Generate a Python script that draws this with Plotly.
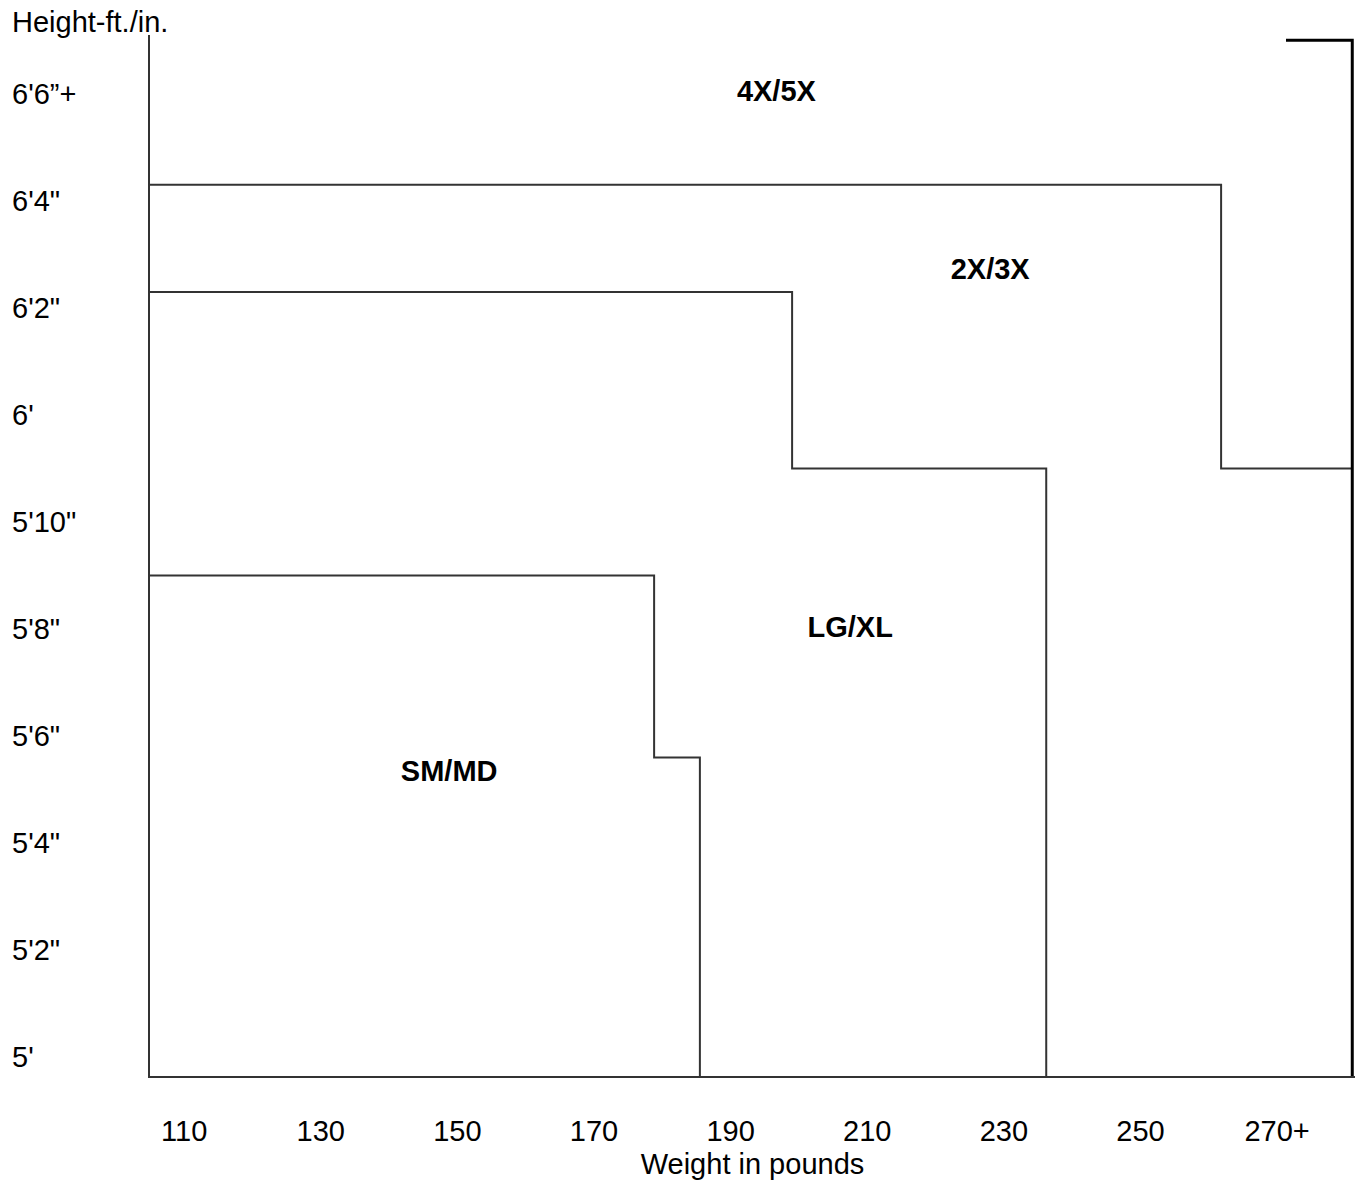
import plotly.graph_objects as go

# Axis ticks
weight_ticks = [110, 130, 150, 170, 190, 210, 230, 250, 270]
weight_labels = ["110", "130", "150", "170", "190", "210", "230", "250", "270+"]
height_ticks = [60, 62, 64, 66, 68, 70, 72, 74, 76, 78]
height_labels = ["5'", "5'2\"", "5'4\"", "5'6\"", "5'8\"", "5'10\"", "6'", "6'2\"", "6'4\"", "6'6”+"]

# Size-zone boundaries (weight lb, height in.)
sm_md_w = [105, 178.8, 178.8, 185.5, 185.5]
sm_md_h = [69.0, 69.0, 65.6, 65.6, 59.65]
lg_xl_w = [105, 199.0, 199.0, 236.2, 236.2]
lg_xl_h = [74.3, 74.3, 71.0, 71.0, 59.65]
x23_w = [105, 261.8, 261.8, 281.0]
x23_h = [76.3, 76.3, 71.0, 71.0]
outer_w = [271.3, 281.0, 281.0]
outer_h = [79.0, 79.0, 59.65]

# Zone labels
zone_names = ["4X/5X", "2X/3X", "LG/XL", "SM/MD"]
zone_w = [196.7, 228.0, 207.5, 148.8]
zone_h = [78.0, 74.67, 67.98, 65.29]

FONT = "Liberation Sans, Arial, sans-serif"
LINE = "#333333"
FS = 29

fig = go.Figure()
for xs, ys in [(sm_md_w, sm_md_h), (lg_xl_w, lg_xl_h), (x23_w, x23_h)]:
    fig.add_trace(go.Scatter(x=xs, y=ys, mode="lines",
                             line=dict(color=LINE, width=2), hoverinfo="skip"))
fig.add_trace(go.Scatter(x=outer_w, y=outer_h, mode="lines",
                         line=dict(color="black", width=3), hoverinfo="skip"))
fig.add_trace(go.Scatter(x=zone_w, y=zone_h, mode="text", text=zone_names,
                         textfont=dict(family=FONT, size=FS, color="black"),
                         texttemplate="<b>%{text}</b>", hoverinfo="skip"))
# helper trace for label axis
fig.add_trace(go.Scatter(x=[None], y=[None], yaxis="y2", mode="markers",
                         showlegend=False, hoverinfo="skip"))

fig.update_layout(
    width=1356, height=1182,
    margin=dict(l=8, r=1, t=35, b=106),
    paper_bgcolor="white", plot_bgcolor="white",
    showlegend=False,
    font=dict(family=FONT, size=FS, color="black"),
    xaxis=dict(
        domain=[0.1054, 1.0],
        range=[105, 281.4],
        tickvals=weight_ticks, ticktext=weight_labels,
        showgrid=False, zeroline=False,
        showline=True, linecolor=LINE, linewidth=2,
        ticks="outside", ticklen=28, tickcolor="rgba(0,0,0,0)",
        tickfont=dict(family=FONT, size=FS, color="black"),
        title=dict(text="Weight in pounds", standoff=8,
                   font=dict(family=FONT, size=FS, color="black")),
        fixedrange=True,
    ),
    yaxis=dict(
        range=[59.65, 79.1],
        showticklabels=False, showgrid=False, zeroline=False,
        showline=True, linecolor=LINE, linewidth=2, ticks="",
        fixedrange=True,
    ),
    yaxis2=dict(
        overlaying="y", anchor="free", position=0, side="left",
        range=[59.65, 79.1],
        tickvals=height_ticks, ticktext=height_labels,
        ticklabelposition="inside", ticks="",
        showgrid=False, zeroline=False, showline=False,
        tickfont=dict(family=FONT, size=FS, color="black"),
        fixedrange=True,
    ),
    annotations=[dict(text="Height-ft./in.", xref="paper", yref="paper",
                      x=0.0015, y=1.0125, xanchor="left", yanchor="middle",
                      showarrow=False,
                      font=dict(family=FONT, size=FS, color="black"))],
)

fig.write_html(
    "out.html",
    config={"displayModeBar": False},
    post_script="document.body.style.margin='0';document.body.style.overflow='hidden';",
)
